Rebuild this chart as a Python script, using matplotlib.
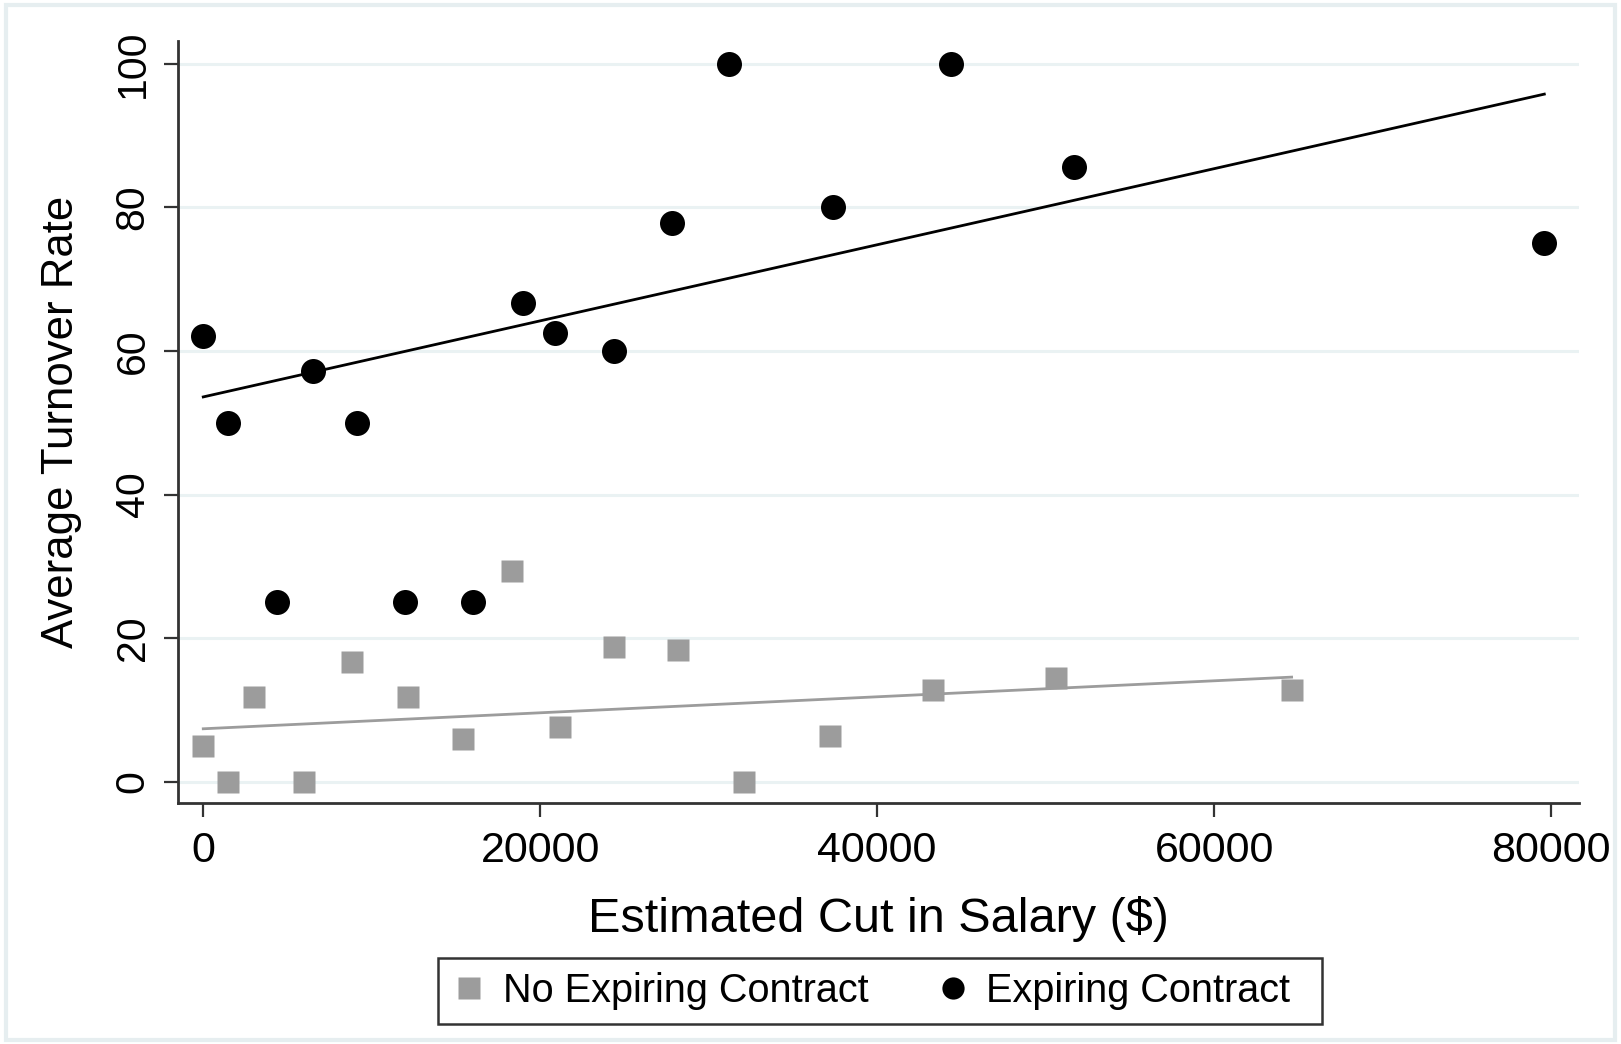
import numpy as np
import matplotlib.pyplot as plt
from matplotlib.patches import Rectangle
from matplotlib.lines import Line2D

# expiring contract (black circles)
exp_x = [0, 1470, 4400, 6500, 9150, 12000, 16000, 19000, 20900, 24400,
         27800, 31200, 37400, 44400, 51700, 79600]
exp_y = [62.1, 50, 25, 57.2, 50, 25, 25, 66.7, 62.5, 60,
         77.8, 100, 80, 100, 85.7, 75]

# no expiring contract (gray squares)
noexp_x = [0, 1470, 3000, 6000, 8800, 12150, 15400, 18300, 21200, 24400,
           28200, 32100, 37200, 43300, 50600, 64600]
noexp_y = [4.9, 0, 11.8, 0, 16.7, 11.8, 5.9, 29.4, 7.6, 18.7,
           18.3, 0, 6.3, 12.7, 14.4, 12.7]

# fitted lines (value at min x, value at max x)
exp_fit = [53.6, 95.8]
noexp_fit = [7.35, 14.55]

xticks = [0, 20000, 40000, 60000, 80000]
yticks = [0, 20, 40, 60, 80, 100]

plt.rcParams['font.family'] = ['Liberation Sans', 'DejaVu Sans']

fig = plt.figure(figsize=(16.21, 10.44), dpi=100)
ax = fig.add_axes([0.1098, 0.2308, 0.974 - 0.1098, 0.9607 - 0.2308])

gray = '#9c9c9c'
axcol = '#333333'

for y in yticks:
    ax.axhline(y, color='#eaf2f3', lw=2.2, zorder=0)

ax.plot([min(noexp_x), max(noexp_x)], noexp_fit, color=gray, lw=2, zorder=2)
ax.plot([min(exp_x), max(exp_x)], exp_fit, color='black', lw=2, zorder=2)

ax.plot(noexp_x, noexp_y, 's', color=gray, ms=16.5, mec='none', zorder=3)
ax.plot(exp_x, exp_y, 'o', color='black', ms=18, mec='none', zorder=3)

ax.set_xlim(-1500, 81650)
ax.set_ylim(-3, 103.2)
ax.set_xticks(xticks)
ax.set_yticks(yticks)
ax.set_xticklabels([str(t) for t in xticks], fontsize=31)
ax.set_yticklabels([str(t) for t in yticks], rotation=90, va='center', fontsize=29.5)

for s in ['top', 'right']:
    ax.spines[s].set_visible(False)
for s in ['left', 'bottom']:
    ax.spines[s].set_color(axcol)
    ax.spines[s].set_linewidth(2)
ax.tick_params(direction='out', length=10, width=1.6, color=axcol, pad=10)
ax.tick_params(axis='y', pad=9)

ax.set_xlabel('Estimated Cut in Salary ($)', fontsize=35, labelpad=18)
ax.set_ylabel('Average Turnover Rate', fontsize=31.5, labelpad=23)

handles = [Line2D([], [], marker='s', ls='none', color=gray, ms=16, mec='none'),
           Line2D([], [], marker='o', ls='none', color='black', ms=16, mec='none')]
leg = fig.legend(handles, ['No Expiring Contract', 'Expiring Contract'],
                 loc='center', bbox_to_anchor=(0.5385, 0.0505), ncol=2,
                 fontsize=28.5, frameon=False,
                 handletextpad=0.5, columnspacing=1.77, borderpad=0.0,
                 handlelength=0.7)

# legend frame
fig.patches.append(Rectangle((0.2703, 0.0187), 0.8156 - 0.2703, 0.0824 - 0.0187,
                             transform=fig.transFigure, fill=False,
                             edgecolor=axcol, lw=1.8))

fig.patches.append(Rectangle((0.004, 0.004), 0.992, 0.991, transform=fig.transFigure,
                             fill=False, edgecolor='#e6eef0', lw=3))

fig.savefig('out.png', dpi=100)
